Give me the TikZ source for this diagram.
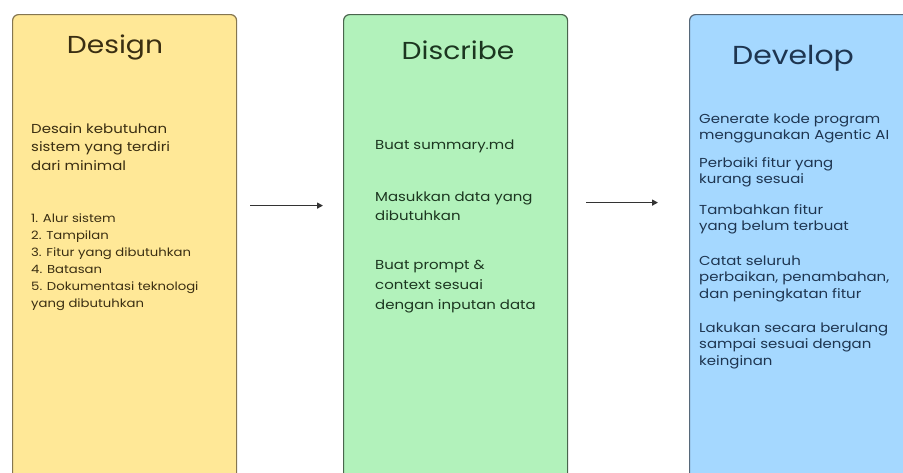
\documentclass[tikz,border=0pt]{standalone}
\usepackage{fontspec}
\setmainfont{Poppins}[FakeStretch=1.15]
\usetikzlibrary{arrows.meta}
\definecolor{yfill}{HTML}{FFE897}
\definecolor{gfill}{HTML}{B2F2BB}
\definecolor{bfill}{HTML}{A5D8FF}
\definecolor{ydraw}{HTML}{857650}
\definecolor{gdraw}{HTML}{4A654D}
\definecolor{bdraw}{HTML}{566879}
\definecolor{ytext}{HTML}{3A2E12}
\definecolor{gtext}{HTML}{1C3620}
\definecolor{btext}{HTML}{1E3550}
\definecolor{arrowc}{HTML}{333333}
\tikzset{
  panel/.style={draw, line width=1.2pt, rounded corners=6pt, minimum width=224pt, minimum height=466pt, anchor=north west, inner sep=0pt},
  title/.style={anchor=base, font={\fontsize{24.5}{28}\selectfont}},
  body/.style={anchor=base west, align=left, inner sep=0pt},
  devbody/.style={body, text=btext, font={\fontsize{13}{16.5}\selectfont}},
  arr/.style={draw=arrowc, line width=1.6pt, -{Triangle[length=6pt,width=6pt]}}
}
\begin{document}
\begin{tikzpicture}[x=1pt,y=-1pt]
\useasboundingbox (0,0) rectangle (903,472);
\clip (0,0) rectangle (903,472);
\fill[white] (0,0) rectangle (903,472);
% panels
\node[panel, draw=ydraw, fill=yfill] (design) at (12,14) {};
\node[panel, draw=gdraw, fill=gfill] (discribe) at (343,14) {};
\node[panel, draw=bdraw, fill=bfill, minimum width=240pt] (develop) at (689,14) {};
% titles
\node[title, text=ytext] (t1) at (115,53) {Design};
\node[title, text=gtext] (t2) at (458,59) {Discribe};
\node[title, text=btext, font={\fontsize{26}{30}\selectfont}] (t3) at (793,64) {Develop};
% design body (anchor = baseline of last line)
\node[body, text=ytext, font={\fontsize{13}{18.5}\selectfont}] (d1) at (31,170)
  {Desain kebutuhan\\sistem yang terdiri\\dari minimal};
\node[body, text=ytext, font={\fontsize{11.5}{17}\selectfont}] (d2) at (31,307)
  {1. Alur sistem\\2. Tampilan\\3. Fitur yang dibutuhkan\\4. Batasan\\5. Dokumentasi teknologi\\yang dibutuhkan};
% discribe body
\node[body, text=gtext, font={\fontsize{13}{19}\selectfont}] (s1) at (375,149) {Buat summary.md};
\node[body, text=gtext, font={\fontsize{13}{19}\selectfont}] (s2) at (375,220) {Masukkan data yang\\dibutuhkan};
\node[body, text=gtext, font={\fontsize{13}{20}\selectfont}] (s3) at (375,309) {Buat prompt \&\\context sesuai\\dengan inputan data};
% develop body
\node[devbody] (v1) at (699,139.5) {Generate kode program\\menggunakan Agentic AI};
\node[devbody] (v2) at (699,183.5) {Perbaiki fitur yang\\kurang sesuai};
\node[devbody] (v3) at (699,230.5) {Tambahkan fitur\\yang belum terbuat};
\node[devbody] (v4) at (699,298) {Catat seluruh\\perbaikan, penambahan,\\dan peningkatan fitur};
\node[devbody] (v5) at (699,365) {Lakukan secara berulang\\sampai sesuai dengan\\keinginan};
% arrows
\draw[arr, shorten <=13pt, shorten >=20pt] ([yshift=42pt]design.east) -- ([yshift=42pt]discribe.west);
\draw[arr, shorten <=18pt, shorten >=31pt] ([yshift=45pt]discribe.east) -- ([yshift=45pt]develop.west);
\end{tikzpicture}
\end{document}
